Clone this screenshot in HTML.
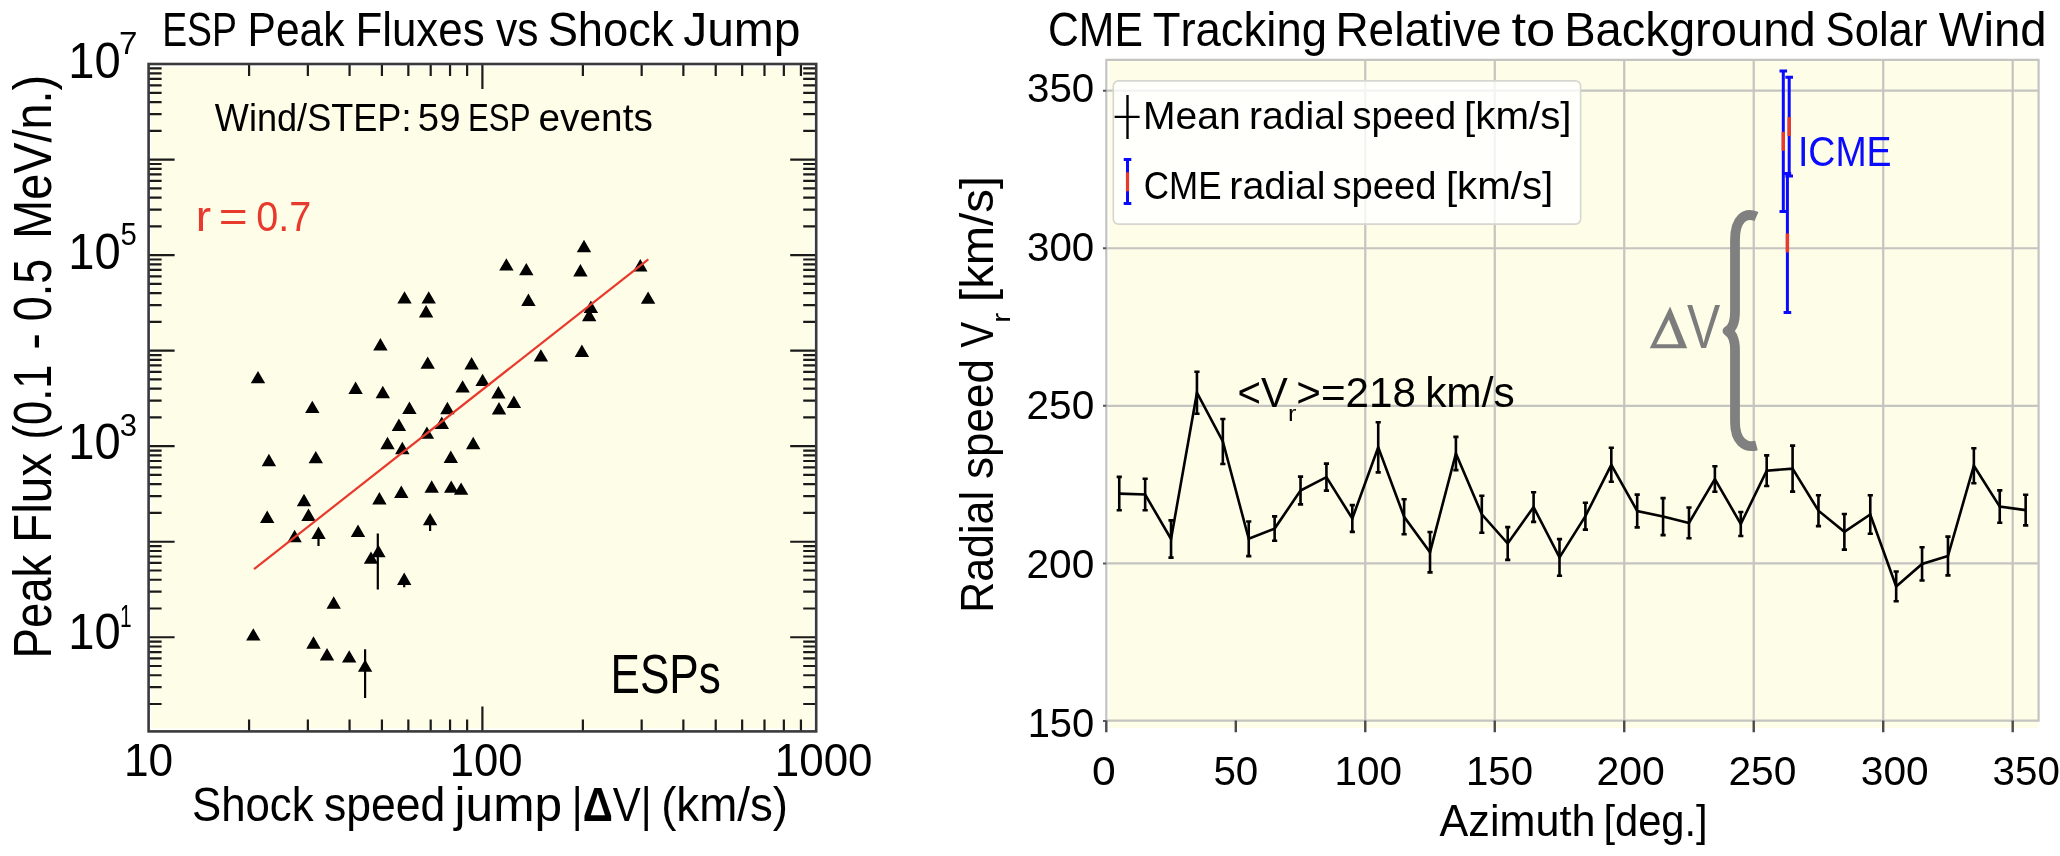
<!DOCTYPE html><html><head><meta charset="utf-8"><style>html,body{margin:0;padding:0;background:#fff;width:2060px;height:856px;overflow:hidden}svg{display:block;will-change:transform}text{font-family:"Liberation Sans", sans-serif;font-kerning:none;font-variant-ligatures:none}</style></head><body>
<svg width="2060" height="856" viewBox="0 0 2060 856">
<rect width="2060" height="856" fill="#fff"/>
<rect x="151.60" y="67.00" width="661.60" height="661.40" fill="#FEFDE8"/>
<path d="M148.60 704.02H161.60M816.20 704.02H803.20M148.60 687.20H161.60M816.20 687.20H803.20M148.60 675.26H161.60M816.20 675.26H803.20M148.60 666.01H161.60M816.20 666.01H803.20M148.60 658.44H161.60M816.20 658.44H803.20M148.60 652.05H161.60M816.20 652.05H803.20M148.60 646.51H161.60M816.20 646.51H803.20M148.60 641.62H161.60M816.20 641.62H803.20M148.60 637.25H174.60M816.20 637.25H790.20M148.60 608.49H161.60M816.20 608.49H803.20M148.60 591.67H161.60M816.20 591.67H803.20M148.60 579.74H161.60M816.20 579.74H803.20M148.60 570.48H161.60M816.20 570.48H803.20M148.60 562.92H161.60M816.20 562.92H803.20M148.60 556.52H161.60M816.20 556.52H803.20M148.60 550.98H161.60M816.20 550.98H803.20M148.60 546.10H161.60M816.20 546.10H803.20M148.60 541.73H174.60M816.20 541.73H790.20M148.60 512.97H161.60M816.20 512.97H803.20M148.60 496.15H161.60M816.20 496.15H803.20M148.60 484.21H161.60M816.20 484.21H803.20M148.60 474.96H161.60M816.20 474.96H803.20M148.60 467.39H161.60M816.20 467.39H803.20M148.60 461.00H161.60M816.20 461.00H803.20M148.60 455.46H161.60M816.20 455.46H803.20M148.60 450.57H161.60M816.20 450.57H803.20M148.60 446.20H174.60M816.20 446.20H790.20M148.60 417.44H161.60M816.20 417.44H803.20M148.60 400.62H161.60M816.20 400.62H803.20M148.60 388.69H161.60M816.20 388.69H803.20M148.60 379.43H161.60M816.20 379.43H803.20M148.60 371.87H161.60M816.20 371.87H803.20M148.60 365.47H161.60M816.20 365.47H803.20M148.60 359.93H161.60M816.20 359.93H803.20M148.60 355.05H161.60M816.20 355.05H803.20M148.60 350.68H174.60M816.20 350.68H790.20M148.60 321.92H161.60M816.20 321.92H803.20M148.60 305.10H161.60M816.20 305.10H803.20M148.60 293.16H161.60M816.20 293.16H803.20M148.60 283.91H161.60M816.20 283.91H803.20M148.60 276.34H161.60M816.20 276.34H803.20M148.60 269.95H161.60M816.20 269.95H803.20M148.60 264.41H161.60M816.20 264.41H803.20M148.60 259.52H161.60M816.20 259.52H803.20M148.60 255.15H174.60M816.20 255.15H790.20M148.60 226.39H161.60M816.20 226.39H803.20M148.60 209.57H161.60M816.20 209.57H803.20M148.60 197.64H161.60M816.20 197.64H803.20M148.60 188.38H161.60M816.20 188.38H803.20M148.60 180.82H161.60M816.20 180.82H803.20M148.60 174.42H161.60M816.20 174.42H803.20M148.60 168.88H161.60M816.20 168.88H803.20M148.60 164.00H161.60M816.20 164.00H803.20M148.60 159.62H174.60M816.20 159.62H790.20M148.60 130.87H161.60M816.20 130.87H803.20M148.60 114.05H161.60M816.20 114.05H803.20M148.60 102.11H161.60M816.20 102.11H803.20M148.60 92.86H161.60M816.20 92.86H803.20M148.60 85.29H161.60M816.20 85.29H803.20M148.60 78.90H161.60M816.20 78.90H803.20M148.60 73.36H161.60M816.20 73.36H803.20M148.60 68.47H161.60M816.20 68.47H803.20M249.08 731.40V719.40M249.08 64.00V76.00M307.86 731.40V719.40M307.86 64.00V76.00M349.57 731.40V719.40M349.57 64.00V76.00M381.92 731.40V719.40M381.92 64.00V76.00M408.35 731.40V719.40M408.35 64.00V76.00M430.69 731.40V719.40M430.69 64.00V76.00M450.05 731.40V719.40M450.05 64.00V76.00M467.13 731.40V719.40M467.13 64.00V76.00M482.40 731.40V706.40M482.40 64.00V89.00M582.88 731.40V719.40M582.88 64.00V76.00M641.66 731.40V719.40M641.66 64.00V76.00M683.37 731.40V719.40M683.37 64.00V76.00M715.72 731.40V719.40M715.72 64.00V76.00M742.15 731.40V719.40M742.15 64.00V76.00M764.49 731.40V719.40M764.49 64.00V76.00M783.85 731.40V719.40M783.85 64.00V76.00M800.93 731.40V719.40M800.93 64.00V76.00" stroke="#1a1a1a" stroke-width="2.2" fill="none"/>
<path d="M430.10 519.10V531.00M318.50 532.80V546.00M377.80 533.60V589.60M404.20 578.70V587.30M365.10 649.20V697.90" stroke="#000" stroke-width="2.2" fill="none"/>
<path d="M258.00 370.90L265.20 383.30L250.80 383.30ZM312.30 400.70L319.50 413.10L305.10 413.10ZM355.60 381.60L362.80 394.00L348.40 394.00ZM382.80 385.80L390.00 398.20L375.60 398.20ZM380.40 338.00L387.60 350.40L373.20 350.40ZM404.50 291.20L411.70 303.60L397.30 303.60ZM428.70 291.20L435.90 303.60L421.50 303.60ZM426.10 305.10L433.30 317.50L418.90 317.50ZM427.70 356.40L434.90 368.80L420.50 368.80ZM409.40 401.60L416.60 414.00L402.20 414.00ZM398.90 418.50L406.10 430.90L391.70 430.90ZM387.50 436.80L394.70 449.20L380.30 449.20ZM402.30 441.80L409.50 454.20L395.10 454.20ZM268.90 453.80L276.10 466.20L261.70 466.20ZM315.80 450.90L323.00 463.30L308.60 463.30ZM426.90 426.40L434.10 438.80L419.70 438.80ZM506.40 258.20L513.60 270.60L499.20 270.60ZM526.30 262.90L533.50 275.30L519.10 275.30ZM584.00 239.80L591.20 252.20L576.80 252.20ZM580.40 264.10L587.60 276.50L573.20 276.50ZM640.30 259.00L647.50 271.40L633.10 271.40ZM528.40 293.50L535.60 305.90L521.20 305.90ZM648.10 291.40L655.30 303.80L640.90 303.80ZM590.90 300.60L598.10 313.00L583.70 313.00ZM589.20 308.80L596.40 321.20L582.00 321.20ZM581.90 344.60L589.10 357.00L574.70 357.00ZM540.90 349.20L548.10 361.60L533.70 361.60ZM471.60 357.00L478.80 369.40L464.40 369.40ZM482.60 373.70L489.80 386.10L475.40 386.10ZM462.60 380.20L469.80 392.60L455.40 392.60ZM498.40 386.10L505.60 398.50L491.20 398.50ZM513.90 395.50L521.10 407.90L506.70 407.90ZM499.00 402.10L506.20 414.50L491.80 414.50ZM447.40 401.80L454.60 414.20L440.20 414.20ZM441.80 416.60L449.00 429.00L434.60 429.00ZM473.20 436.80L480.40 449.20L466.00 449.20ZM450.80 450.60L458.00 463.00L443.60 463.00ZM431.70 480.30L438.90 492.70L424.50 492.70ZM401.30 485.50L408.50 497.90L394.10 497.90ZM379.40 492.00L386.60 504.40L372.20 504.40ZM304.00 493.80L311.20 506.20L296.80 506.20ZM267.20 510.60L274.40 523.00L260.00 523.00ZM308.50 508.60L315.70 521.00L301.30 521.00ZM430.10 512.90L437.30 525.30L422.90 525.30ZM294.60 529.80L301.80 542.20L287.40 542.20ZM318.50 526.60L325.70 539.00L311.30 539.00ZM358.00 524.50L365.20 536.90L350.80 536.90ZM451.20 480.40L458.40 492.80L444.00 492.80ZM461.10 482.40L468.30 494.80L453.90 494.80ZM371.00 551.40L378.20 563.80L363.80 563.80ZM378.40 544.80L385.60 557.20L371.20 557.20ZM404.20 572.50L411.40 584.90L397.00 584.90ZM333.70 596.30L340.90 608.70L326.50 608.70ZM253.30 628.20L260.50 640.60L246.10 640.60ZM313.50 636.30L320.70 648.70L306.30 648.70ZM327.00 648.00L334.20 660.40L319.80 660.40ZM349.20 650.20L356.40 662.60L342.00 662.60ZM365.10 659.40L372.30 671.80L357.90 671.80Z" fill="#000"/>
<path d="M254 569.2L648.3 259.3" stroke="#E8392D" stroke-width="2.2" fill="none"/>
<rect x="148.60" y="64.00" width="667.60" height="667.40" fill="none" stroke="#3a3a3a" stroke-width="2.6"/>
<text x="68.21" y="78.00" font-size="50.30" textLength="52.43" lengthAdjust="spacingAndGlyphs" fill="#000" >10</text>
<text x="118.90" y="54.20" font-size="30.50" textLength="18.47" lengthAdjust="spacingAndGlyphs" fill="#000" >7</text>
<text x="68.21" y="268.60" font-size="50.30" textLength="52.43" lengthAdjust="spacingAndGlyphs" fill="#000" >10</text>
<text x="120.53" y="245.30" font-size="30.50" textLength="16.30" lengthAdjust="spacingAndGlyphs" fill="#000" >5</text>
<text x="68.21" y="459.00" font-size="50.30" textLength="52.43" lengthAdjust="spacingAndGlyphs" fill="#000" >10</text>
<text x="119.72" y="436.20" font-size="30.50" textLength="17.24" lengthAdjust="spacingAndGlyphs" fill="#000" >3</text>
<text x="68.21" y="649.10" font-size="50.30" textLength="52.43" lengthAdjust="spacingAndGlyphs" fill="#000" >10</text>
<text x="120.11" y="627.00" font-size="30.50" textLength="11.61" lengthAdjust="spacingAndGlyphs" fill="#000" >1</text>
<text x="124.03" y="776.40" font-size="46.70" textLength="49.20" lengthAdjust="spacingAndGlyphs" fill="#000" >10</text>
<text x="449.78" y="776.40" font-size="46.70" textLength="72.83" lengthAdjust="spacingAndGlyphs" fill="#000" >100</text>
<text x="774.86" y="776.40" font-size="46.70" textLength="97.66" lengthAdjust="spacingAndGlyphs" fill="#000" >1000</text>
<text x="162.24" y="45.50" font-size="48.00" textLength="74.63" lengthAdjust="spacingAndGlyphs" fill="#000" >ESP</text>
<text x="247.62" y="45.50" font-size="48.00" textLength="96.82" lengthAdjust="spacingAndGlyphs" fill="#000" >Peak</text>
<text x="355.40" y="45.50" font-size="48.00" textLength="129.18" lengthAdjust="spacingAndGlyphs" fill="#000" >Fluxes</text>
<text x="495.95" y="45.50" font-size="48.00" textLength="42.48" lengthAdjust="spacingAndGlyphs" fill="#000" >vs</text>
<text x="547.64" y="45.50" font-size="48.00" textLength="125.99" lengthAdjust="spacingAndGlyphs" fill="#000" >Shock</text>
<text x="683.15" y="45.50" font-size="48.00" textLength="117.37" lengthAdjust="spacingAndGlyphs" fill="#000" >Jump</text>
<text x="192.01" y="821.00" font-size="48.70" textLength="121.52" lengthAdjust="spacingAndGlyphs" fill="#000" >Shock</text>
<text x="323.96" y="821.00" font-size="48.70" textLength="121.41" lengthAdjust="spacingAndGlyphs" fill="#000" >speed</text>
<text x="454.61" y="821.00" font-size="48.70" textLength="107.47" lengthAdjust="spacingAndGlyphs" fill="#000" >jump</text>
<text x="571.76" y="821.00" font-size="48.70" textLength="79.78" lengthAdjust="spacingAndGlyphs" fill="#000" >|<tspan font-weight="bold">Δ</tspan>V|</text>
<text x="661.17" y="821.00" font-size="48.70" textLength="126.87" lengthAdjust="spacingAndGlyphs" fill="#000" >(km/s)</text>
<text transform="translate(50.50,654.70) rotate(-90)" x="-3.73" y="0" font-size="53.00" textLength="103.66" lengthAdjust="spacingAndGlyphs" fill="#000" >Peak</text>
<text transform="translate(50.50,539.00) rotate(-90)" x="-3.91" y="0" font-size="53.00" textLength="90.13" lengthAdjust="spacingAndGlyphs" fill="#000" >Flux</text>
<text transform="translate(50.50,436.70) rotate(-90)" x="-2.69" y="0" font-size="53.00" textLength="74.71" lengthAdjust="spacingAndGlyphs" fill="#000" >(0.1</text>
<text transform="translate(50.50,347.50) rotate(-90)" x="-2.22" y="0" font-size="53.00" textLength="16.64" lengthAdjust="spacingAndGlyphs" fill="#000" >-</text>
<text transform="translate(50.50,319.50) rotate(-90)" x="-1.75" y="0" font-size="53.00" textLength="62.44" lengthAdjust="spacingAndGlyphs" fill="#000" >0.5</text>
<text transform="translate(50.50,234.80) rotate(-90)" x="-3.83" y="0" font-size="53.00" textLength="163.63" lengthAdjust="spacingAndGlyphs" fill="#000" >MeV/n.)</text>
<text x="214.84" y="131.30" font-size="39.00" textLength="196.66" lengthAdjust="spacingAndGlyphs" fill="#000" >Wind/STEP:</text>
<text x="417.86" y="131.30" font-size="39.00" textLength="42.65" lengthAdjust="spacingAndGlyphs" fill="#000" >59</text>
<text x="468.04" y="131.30" font-size="39.00" textLength="62.40" lengthAdjust="spacingAndGlyphs" fill="#000" >ESP</text>
<text x="538.55" y="131.30" font-size="39.00" textLength="114.25" lengthAdjust="spacingAndGlyphs" fill="#000" >events</text>
<text x="195.75" y="230.70" font-size="42.80" textLength="15.32" lengthAdjust="spacingAndGlyphs" fill="#E8392D" >r</text>
<text x="218.88" y="230.70" font-size="42.80" textLength="28.97" lengthAdjust="spacingAndGlyphs" fill="#E8392D" >=</text>
<text x="256.15" y="230.70" font-size="42.80" textLength="55.04" lengthAdjust="spacingAndGlyphs" fill="#E8392D" >0.7</text>
<text x="610.48" y="693.20" font-size="56.00" textLength="110.31" lengthAdjust="spacingAndGlyphs" fill="#000" >ESPs</text>
<rect x="1109.30" y="60.80" width="928.80" height="667.20" fill="#FEFDE8"/>
<path d="M1365.27 59.80V720.60M1494.76 59.80V720.60M1624.24 59.80V720.60M1753.73 59.80V720.60M1883.22 59.80V720.60M2012.70 59.80V720.60M1106.30 563.40H2038.60M1106.30 405.83H2038.60M1106.30 248.27H2038.60M1106.30 90.70H2038.60" stroke="#c4c4c0" stroke-width="2.2" fill="none"/>
<path d="M1106.30 720.60V59.80H2038.60V720.60H1106.30Z" stroke="#c4c4c0" stroke-width="2.2" fill="none"/>
<path d="M1106.30 720.60V732.20M1235.79 720.60V732.20M1365.27 720.60V732.20M1494.76 720.60V732.20M1624.24 720.60V732.20M1753.73 720.60V732.20M1883.22 720.60V732.20M2012.70 720.60V732.20" stroke="#4a4a4a" stroke-width="2.4" fill="none"/>
<path d="M1103.00 720.96H1106.30M1103.00 563.40H1106.30M1103.00 405.83H1106.30M1103.00 248.27H1106.30M1103.00 90.70H1106.30" stroke="#555" stroke-width="2" fill="none"/>
<polyline points="1119.25,493.60 1145.15,494.50 1171.04,539.00 1196.94,392.70 1222.84,441.50 1248.73,538.80 1274.63,528.60 1300.53,490.50 1326.43,477.10 1352.32,518.50 1378.22,447.30 1404.12,516.80 1430.02,552.20 1455.91,453.50 1481.81,514.30 1507.71,543.50 1533.60,507.10 1559.50,557.40 1585.40,516.20 1611.30,464.80 1637.19,511.00 1663.09,516.60 1688.99,522.90 1714.88,479.00 1740.78,524.00 1766.68,470.70 1792.58,468.60 1818.47,510.70 1844.37,531.80 1870.27,514.50 1896.17,586.40 1922.06,563.90 1947.96,556.00 1973.86,465.70 1999.75,506.60 2025.65,510.10" stroke="#000" stroke-width="2.6" fill="none" stroke-linejoin="miter"/>
<path d="M1119.25 476.90V510.30M1116.65 476.90H1121.85M1116.65 510.30H1121.85M1145.15 478.70V510.30M1142.55 478.70H1147.75M1142.55 510.30H1147.75M1171.04 520.40V557.60M1168.44 520.40H1173.64M1168.44 557.60H1173.64M1196.94 371.70V413.70M1194.34 371.70H1199.54M1194.34 413.70H1199.54M1222.84 419.00V464.00M1220.24 419.00H1225.44M1220.24 464.00H1225.44M1248.73 521.50V556.10M1246.13 521.50H1251.33M1246.13 556.10H1251.33M1274.63 516.40V540.80M1272.03 516.40H1277.23M1272.03 540.80H1277.23M1300.53 476.60V504.40M1297.93 476.60H1303.13M1297.93 504.40H1303.13M1326.43 463.60V490.60M1323.83 463.60H1329.03M1323.83 490.60H1329.03M1352.32 505.10V531.90M1349.72 505.10H1354.92M1349.72 531.90H1354.92M1378.22 422.20V472.40M1375.62 422.20H1380.82M1375.62 472.40H1380.82M1404.12 499.30V534.30M1401.52 499.30H1406.72M1401.52 534.30H1406.72M1430.02 532.00V572.40M1427.42 532.00H1432.62M1427.42 572.40H1432.62M1455.91 436.90V470.10M1453.31 436.90H1458.51M1453.31 470.10H1458.51M1481.81 495.80V532.80M1479.21 495.80H1484.41M1479.21 532.80H1484.41M1507.71 527.10V559.90M1505.11 527.10H1510.31M1505.11 559.90H1510.31M1533.60 492.30V521.90M1531.00 492.30H1536.20M1531.00 521.90H1536.20M1559.50 539.10V575.70M1556.90 539.10H1562.10M1556.90 575.70H1562.10M1585.40 502.80V529.60M1582.80 502.80H1588.00M1582.80 529.60H1588.00M1611.30 447.80V481.80M1608.70 447.80H1613.90M1608.70 481.80H1613.90M1637.19 494.60V527.40M1634.59 494.60H1639.79M1634.59 527.40H1639.79M1663.09 498.10V535.10M1660.49 498.10H1665.69M1660.49 535.10H1665.69M1688.99 507.50V538.30M1686.39 507.50H1691.59M1686.39 538.30H1691.59M1714.88 466.20V491.80M1712.28 466.20H1717.48M1712.28 491.80H1717.48M1740.78 512.00V536.00M1738.18 512.00H1743.38M1738.18 536.00H1743.38M1766.68 455.40V486.00M1764.08 455.40H1769.28M1764.08 486.00H1769.28M1792.58 445.60V491.60M1789.98 445.60H1795.18M1789.98 491.60H1795.18M1818.47 495.30V526.10M1815.87 495.30H1821.07M1815.87 526.10H1821.07M1844.37 514.00V549.60M1841.77 514.00H1846.97M1841.77 549.60H1846.97M1870.27 495.30V533.70M1867.67 495.30H1872.87M1867.67 533.70H1872.87M1896.17 571.50V601.30M1893.57 571.50H1898.77M1893.57 601.30H1898.77M1922.06 547.30V580.50M1919.46 547.30H1924.66M1919.46 580.50H1924.66M1947.96 536.60V575.40M1945.36 536.60H1950.56M1945.36 575.40H1950.56M1973.86 448.20V483.20M1971.26 448.20H1976.46M1971.26 483.20H1976.46M1999.75 490.40V522.80M1997.15 490.40H2002.35M1997.15 522.80H2002.35M2025.65 494.80V525.40M2023.05 494.80H2028.25M2023.05 525.40H2028.25" stroke="#000" stroke-width="2.6" fill="none"/>
<path d="M1783.30 71.10V211.50M1779.50 71.10H1787.10M1779.50 211.50H1787.10" stroke="#0a0aff" stroke-width="3" fill="none"/>
<path d="M1789.20 77.20V176.00M1785.40 77.20H1793.00M1785.40 176.00H1793.00" stroke="#0a0aff" stroke-width="3" fill="none"/>
<path d="M1787.40 173.40V312.40M1783.60 173.40H1791.20M1783.60 312.40H1791.20" stroke="#0a0aff" stroke-width="3" fill="none"/>
<path d="M1783.30 131.80V150.80" stroke="#E8392D" stroke-width="3.4" fill="none"/>
<path d="M1789.20 117.10V136.10" stroke="#E8392D" stroke-width="3.4" fill="none"/>
<path d="M1787.40 233.40V252.40" stroke="#E8392D" stroke-width="3.4" fill="none"/>
<text x="1797.94" y="166.20" font-size="42.70" textLength="93.67" lengthAdjust="spacingAndGlyphs" fill="#0a0aff" >ICME</text>
<path d="M1756.5 216.5C1745 211.5 1735 219 1735 240L1735 312C1735 322 1733 328 1727.5 331C1733 334 1735 340 1735 350L1735 422C1735 441 1745 448.5 1756.5 445.5" stroke="#808080" stroke-width="9.8" fill="none" stroke-linecap="butt" stroke-linejoin="round"/>
<path fill-rule="evenodd" fill="#7c7c7c" d="M1670.1 306.6L1687.2 348.2L1649.8 348.2ZM1668.9 319.5L1656.3 344.2L1678.5 344.2Z"/>
<text x="1686.88" y="347.90" font-size="62.60" textLength="33.24" lengthAdjust="spacingAndGlyphs" fill="#7c7c7c" >V</text>
<text x="1237.52" y="406.90" font-size="42.70" textLength="50.15" lengthAdjust="spacingAndGlyphs" fill="#000" >&lt;V</text>
<text x="1288.03" y="421.20" font-size="22.00" textLength="8.39" lengthAdjust="spacingAndGlyphs" fill="#000" >r</text>
<text x="1296.32" y="406.90" font-size="42.70" textLength="119.72" lengthAdjust="spacingAndGlyphs" fill="#000" >&gt;=218</text>
<text x="1425.14" y="406.90" font-size="42.70" textLength="89.59" lengthAdjust="spacingAndGlyphs" fill="#000" >km/s</text>
<rect x="1113.3" y="80.9" width="467.3" height="143.2" rx="5" ry="5" fill="#ffffff" fill-opacity="0.8" stroke="#d6d6d0" stroke-width="1.6"/>
<path d="M1127.5 94.9V138.9M1114.6 116.9H1139.6" stroke="#000" stroke-width="2.4" fill="none"/>
<path d="M1127.5 159.4V203.4M1123.7 159.4H1131.3M1123.7 203.4H1131.3" stroke="#0a0aff" stroke-width="3" fill="none"/>
<path d="M1127.5 172.3V191.3" stroke="#E8392D" stroke-width="3.2" fill="none"/>
<text x="1143.10" y="129.00" font-size="38.50" textLength="97.64" lengthAdjust="spacingAndGlyphs" fill="#000" >Mean</text>
<text x="1248.90" y="129.00" font-size="38.50" textLength="95.72" lengthAdjust="spacingAndGlyphs" fill="#000" >radial</text>
<text x="1352.44" y="129.00" font-size="38.50" textLength="103.71" lengthAdjust="spacingAndGlyphs" fill="#000" >speed</text>
<text x="1464.13" y="129.00" font-size="38.50" textLength="107.34" lengthAdjust="spacingAndGlyphs" fill="#000" >[km/s]</text>
<text x="1143.82" y="199.00" font-size="38.50" textLength="77.68" lengthAdjust="spacingAndGlyphs" fill="#000" >CME</text>
<text x="1229.28" y="199.00" font-size="38.50" textLength="96.35" lengthAdjust="spacingAndGlyphs" fill="#000" >radial</text>
<text x="1332.44" y="199.00" font-size="38.50" textLength="104.13" lengthAdjust="spacingAndGlyphs" fill="#000" >speed</text>
<text x="1445.93" y="199.00" font-size="38.50" textLength="107.34" lengthAdjust="spacingAndGlyphs" fill="#000" >[km/s]</text>
<text x="1027.07" y="101.60" font-size="41.00" textLength="67.21" lengthAdjust="spacingAndGlyphs" fill="#000" >350</text>
<text x="1027.07" y="260.60" font-size="41.00" textLength="67.21" lengthAdjust="spacingAndGlyphs" fill="#000" >300</text>
<text x="1026.56" y="419.40" font-size="41.00" textLength="67.73" lengthAdjust="spacingAndGlyphs" fill="#000" >250</text>
<text x="1026.56" y="578.30" font-size="41.00" textLength="67.73" lengthAdjust="spacingAndGlyphs" fill="#000" >200</text>
<text x="1027.66" y="737.30" font-size="41.00" textLength="66.60" lengthAdjust="spacingAndGlyphs" fill="#000" >150</text>
<text x="1091.93" y="785.40" font-size="41.50" textLength="23.73" lengthAdjust="spacingAndGlyphs" fill="#000" >0</text>
<text x="1213.38" y="785.40" font-size="41.50" textLength="44.89" lengthAdjust="spacingAndGlyphs" fill="#000" >50</text>
<text x="1334.42" y="785.40" font-size="41.50" textLength="67.57" lengthAdjust="spacingAndGlyphs" fill="#000" >100</text>
<text x="1466.04" y="785.40" font-size="41.50" textLength="67.03" lengthAdjust="spacingAndGlyphs" fill="#000" >150</text>
<text x="1596.44" y="785.40" font-size="41.50" textLength="68.36" lengthAdjust="spacingAndGlyphs" fill="#000" >200</text>
<text x="1728.45" y="785.40" font-size="41.50" textLength="68.04" lengthAdjust="spacingAndGlyphs" fill="#000" >250</text>
<text x="1860.85" y="785.40" font-size="41.50" textLength="67.84" lengthAdjust="spacingAndGlyphs" fill="#000" >300</text>
<text x="1992.56" y="785.40" font-size="41.50" textLength="67.31" lengthAdjust="spacingAndGlyphs" fill="#000" >350</text>
<text x="1048.03" y="45.50" font-size="48.00" textLength="94.90" lengthAdjust="spacingAndGlyphs" fill="#000" >CME</text>
<text x="1152.68" y="45.50" font-size="48.00" textLength="174.35" lengthAdjust="spacingAndGlyphs" fill="#000" >Tracking</text>
<text x="1335.43" y="45.50" font-size="48.00" textLength="166.11" lengthAdjust="spacingAndGlyphs" fill="#000" >Relative</text>
<text x="1511.41" y="45.50" font-size="48.00" textLength="43.80" lengthAdjust="spacingAndGlyphs" fill="#000" >to</text>
<text x="1564.13" y="45.50" font-size="48.00" textLength="251.50" lengthAdjust="spacingAndGlyphs" fill="#000" >Background</text>
<text x="1825.52" y="45.50" font-size="48.00" textLength="101.91" lengthAdjust="spacingAndGlyphs" fill="#000" >Solar</text>
<text x="1938.79" y="45.50" font-size="48.00" textLength="107.86" lengthAdjust="spacingAndGlyphs" fill="#000" >Wind</text>
<text x="1439.62" y="835.90" font-size="43.50" textLength="155.78" lengthAdjust="spacingAndGlyphs" fill="#000" >Azimuth</text>
<text x="1603.43" y="835.90" font-size="43.50" textLength="104.24" lengthAdjust="spacingAndGlyphs" fill="#000" >[deg.]</text>
<text transform="translate(993.20,609.30) rotate(-90)" x="-3.52" y="0" font-size="47.00" textLength="121.80" lengthAdjust="spacingAndGlyphs" fill="#000" >Radial</text>
<text transform="translate(993.20,477.70) rotate(-90)" x="-1.22" y="0" font-size="47.00" textLength="119.86" lengthAdjust="spacingAndGlyphs" fill="#000" >speed</text>
<text transform="translate(993.20,347.60) rotate(-90)" x="-0.17" y="0" font-size="47.00" textLength="26.04" lengthAdjust="spacingAndGlyphs" fill="#000" >V</text>
<text transform="translate(1009.60,320.80) rotate(-90)" x="-2.02" y="0" font-size="26.50" textLength="10.12" lengthAdjust="spacingAndGlyphs" fill="#000" >r</text>
<text transform="translate(993.20,298.60) rotate(-90)" x="-3.37" y="0" font-size="47.00" textLength="125.93" lengthAdjust="spacingAndGlyphs" fill="#000" >[km/s]</text>
</svg></body></html>
